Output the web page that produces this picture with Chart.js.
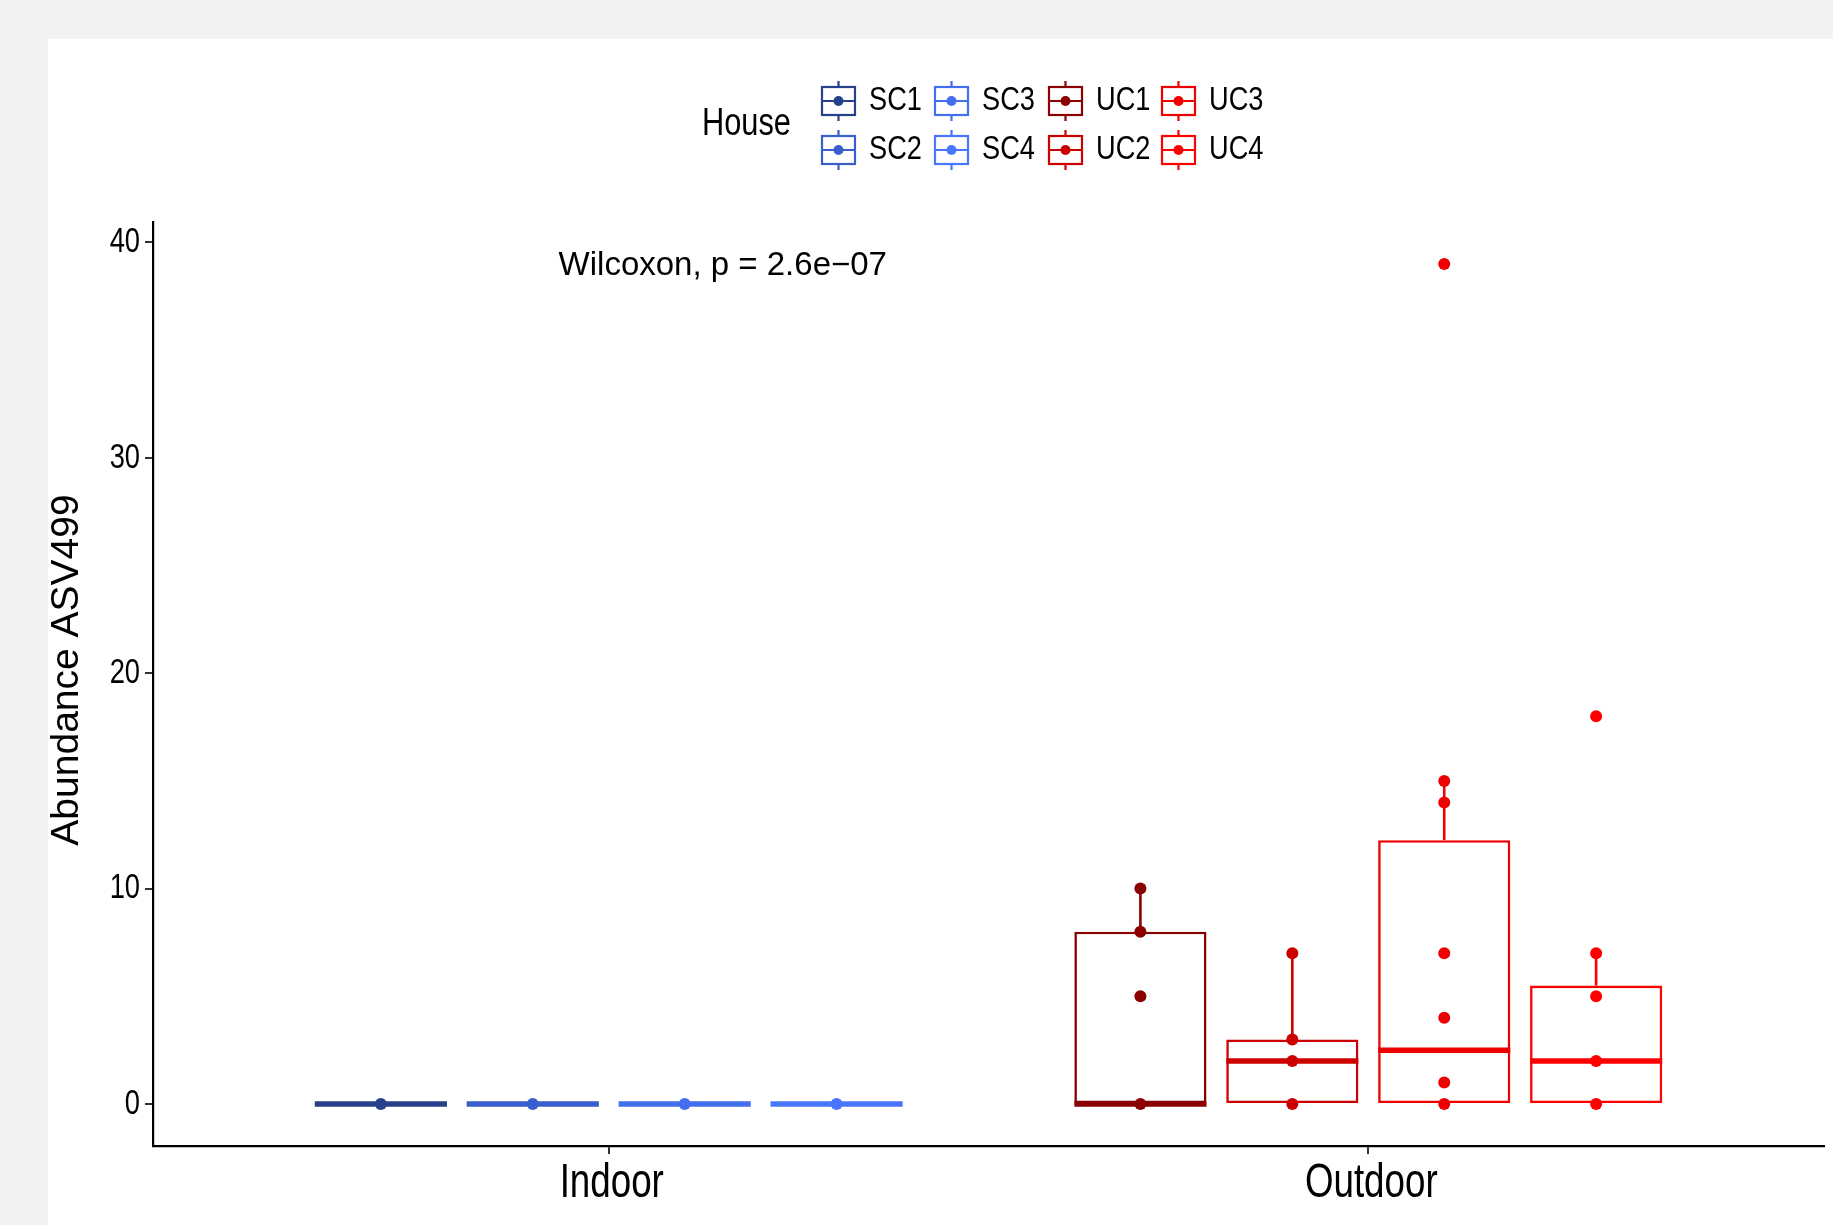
<!DOCTYPE html>
<html>
<head>
<meta charset="utf-8">
<title>Abundance ASV499</title>
<script src="https://cdn.jsdelivr.net/npm/chart.js@4.4.1/dist/chart.umd.min.js"></script>
<style>
  html, body { margin: 0; padding: 0; background: #f2f2f2; }
  body { width: 1833px; height: 1225px; position: relative; overflow: hidden; }
  #panel { position: absolute; left: 48px; top: 39px; width: 1785px; height: 1186px; background: #fff; }
  canvas { display: block; }
</style>
</head>
<body>
<div id="panel"><canvas id="abundanceChart" width="1785" height="1186"></canvas></div>
<script>
// Chart Data
const categories = ['Indoor', 'Outdoor'];
const houses = ['SC1', 'SC2', 'SC3', 'SC4', 'UC1', 'UC2', 'UC3', 'UC4'];
const houseCategory = ['Indoor', 'Indoor', 'Indoor', 'Indoor', 'Outdoor', 'Outdoor', 'Outdoor', 'Outdoor'];
const houseColors = ['#27408B', '#3A5FCD', '#436EEE', '#4876FF', '#8B0000', '#CD0000', '#EE0000', '#FF0000'];

// Box statistics
const boxLower = [0, 0, 0, 0, 0, 0, 0, 0];
const boxMedian = [0, 0, 0, 0, 0, 2, 2.5, 2];
const boxUpper = [0, 0, 0, 0, 8, 3, 12.25, 5.5];
const whiskerLow = [0, 0, 0, 0, 0, 0, 0, 0];
const whiskerHigh = [0, 0, 0, 0, 10, 7, 15, 7];

// Sample values per house (overlapping points only once)
const samplesSC1 = [0];
const samplesSC2 = [0];
const samplesSC3 = [0];
const samplesSC4 = [0];
const samplesUC1 = [0, 5, 8, 10];
const samplesUC2 = [0, 2, 3, 7];
const samplesUC3 = [0, 1, 4, 7, 14, 15, 39];
const samplesUC4 = [0, 2, 5, 7, 18];
const samples = [samplesSC1, samplesSC2, samplesSC3, samplesSC4, samplesUC1, samplesUC2, samplesUC3, samplesUC4];

const yTicks = [0, 10, 20, 30, 40];
const yTitle = 'Abundance ASV499';
const pValueText = 'Wilcoxon, p = 2.6e\u221207';

const plainFont = "'Liberation Sans', Arial, sans-serif";

// dodge: 4 houses side by side inside each category
function housePosition(i) {
  const cat = categories.indexOf(houseCategory[i]);
  const slot = houseCategory.slice(0, i).filter(c => c === houseCategory[i]).length;
  return cat + 1 + (slot - 1.5) * 0.2;
}

// the original uses a condensed face, so squeeze text horizontally
function drawSquashed(ctx, text, x, y, sx) {
  ctx.save();
  ctx.translate(x, y);
  ctx.scale(sx, 1);
  ctx.fillText(text, 0, 0);
  ctx.restore();
}

// Boxes as floating bars, points as scatter
const datasets = [];
houses.forEach(function (house, i) {
  datasets.push({
    type: 'bar',
    label: house + ' box',
    houseIndex: i,
    data: [{ x: housePosition(i), y: [boxLower[i], boxUpper[i]] }],
    backgroundColor: '#ffffff',
    borderColor: houseColors[i],
    borderWidth: 2.6,
    borderSkipped: false,
    grouped: false,
    categoryPercentage: 1,
    barPercentage: 0.87,
    order: 2
  });
});
houses.forEach(function (house, i) {
  datasets.push({
    type: 'scatter',
    label: house,
    data: samples[i].map(v => ({ x: housePosition(i), y: v })),
    backgroundColor: houseColors[i],
    borderWidth: 0,
    pointRadius: 6,
    order: 1
  });
});

// Medians and whiskers drawn on top of each box
const boxplotExtras = {
  id: 'boxplotExtras',
  afterDatasetDraw(chart, args) {
    const ds = chart.data.datasets[args.index];
    if (ds.type !== 'bar') return;
    const i = ds.houseIndex;
    const yScale = chart.scales.y;
    const bar = args.meta.data[0];
    const { x, width } = bar.getProps(['x', 'width'], true);
    const ctx = chart.ctx;
    ctx.save();
    ctx.strokeStyle = houseColors[i];
    ctx.lineWidth = 2.6;
    ctx.beginPath();
    ctx.moveTo(x, yScale.getPixelForValue(boxUpper[i]));
    ctx.lineTo(x, yScale.getPixelForValue(whiskerHigh[i]));
    ctx.moveTo(x, yScale.getPixelForValue(boxLower[i]));
    ctx.lineTo(x, yScale.getPixelForValue(whiskerLow[i]));
    ctx.stroke();
    ctx.lineWidth = 5.5;
    ctx.beginPath();
    const ym = yScale.getPixelForValue(boxMedian[i]);
    ctx.moveTo(x - width / 2, ym);
    ctx.lineTo(x + width / 2, ym);
    ctx.stroke();
    ctx.restore();
  }
};

// Tick labels, axis title, legend (2 rows x 4 columns) and the test label
const legendLayout = { titleX: 654, titleY: 86, keyX: [774, 887, 1001, 1114], rowY: [62, 111], keyW: 33, boxH: 28, whisker: 20, labelGap: 47 };
const pValueAnchor = { x: 0.934, y: 38.5 };

const annotations = {
  id: 'annotations',
  afterDraw(chart) {
    const ctx = chart.ctx;
    const xScale = chart.scales.x, yScale = chart.scales.y;
    const L = legendLayout;
    ctx.save();
    ctx.fillStyle = '#000';

    // y tick labels
    ctx.font = '35px ' + plainFont;
    ctx.textAlign = 'right';
    ctx.textBaseline = 'middle';
    yScale.ticks.forEach(function (t) {
      drawSquashed(ctx, String(t.value), yScale.right - 13, yScale.getPixelForValue(t.value), 0.78);
    });

    // y axis title
    ctx.save();
    ctx.translate(19, (yScale.top + yScale.bottom) / 2 - 14);
    ctx.rotate(-Math.PI / 2);
    ctx.textAlign = 'center';
    ctx.font = '39px ' + plainFont;
    ctx.fillText(yTitle, 0, 0);
    ctx.restore();

    // x tick labels
    ctx.font = '49px ' + plainFont;
    ctx.textAlign = 'center';
    ctx.textBaseline = 'alphabetic';
    xScale.ticks.forEach(function (t) {
      drawSquashed(ctx, categories[Math.round(t.value) - 1], xScale.getPixelForValue(t.value) + 3, xScale.top + 51, 0.75);
    });

    // legend
    ctx.textAlign = 'left';
    ctx.textBaseline = 'middle';
    ctx.font = '38px ' + plainFont;
    drawSquashed(ctx, 'House', L.titleX, L.titleY, 0.81);

    houses.forEach(function (house, i) {
      const col = Math.floor(i / 2), row = i % 2;
      const x0 = L.keyX[col], cy = L.rowY[row], cx = x0 + L.keyW / 2;
      ctx.strokeStyle = houseColors[i];
      ctx.fillStyle = houseColors[i];
      ctx.lineWidth = 2.2;
      ctx.beginPath();
      ctx.moveTo(cx, cy - L.whisker);
      ctx.lineTo(cx, cy - L.boxH / 2);
      ctx.moveTo(cx, cy + L.boxH / 2);
      ctx.lineTo(cx, cy + L.whisker);
      ctx.moveTo(x0, cy);
      ctx.lineTo(x0 + L.keyW, cy);
      ctx.stroke();
      ctx.strokeRect(x0, cy - L.boxH / 2, L.keyW, L.boxH);
      ctx.beginPath();
      ctx.arc(cx, cy, 5, 0, Math.PI * 2);
      ctx.fill();
      ctx.fillStyle = '#000';
      ctx.font = '34px ' + plainFont;
      drawSquashed(ctx, house, x0 + L.labelGap, cy, 0.8);
    });

    // Wilcoxon label placed in data coordinates
    ctx.font = '33px ' + plainFont;
    ctx.textBaseline = 'alphabetic';
    ctx.fillText(pValueText, xScale.getPixelForValue(pValueAnchor.x), yScale.getPixelForValue(pValueAnchor.y));
    ctx.restore();
  }
};

const ctx = document.getElementById('abundanceChart').getContext('2d');
new Chart(ctx, {
  type: 'scatter',
  data: { datasets: datasets },
  options: {
    responsive: false,
    animation: false,
    devicePixelRatio: 1,
    layout: { padding: { top: 183, right: 9, left: 0, bottom: 0 } },
    plugins: {
      legend: { display: false },
      tooltip: { enabled: false }
    },
    scales: {
      x: {
        type: 'linear',
        offset: false,
        min: 0.4,
        max: 2.6,
        afterBuildTicks: scale => { scale.ticks = categories.map((c, k) => ({ value: k + 1 })); },
        afterFit: scale => { scale.height = 79; },
        ticks: { display: false },
        grid: { offset: false, drawOnChartArea: false, drawTicks: true, tickLength: 8, color: '#333', lineWidth: 2 },
        border: { display: true, color: '#000', width: 2.2 }
      },
      y: {
        type: 'linear',
        min: -1.95,
        max: 40.95,
        afterBuildTicks: scale => { scale.ticks = yTicks.map(v => ({ value: v })); },
        afterFit: scale => { scale.width = 105; },
        ticks: { display: false },
        grid: { drawOnChartArea: false, drawTicks: true, tickLength: 8, color: '#333', lineWidth: 2 },
        border: { display: true, color: '#000', width: 2.2 }
      }
    }
  },
  plugins: [boxplotExtras, annotations]
});
</script>
</body>
</html>
